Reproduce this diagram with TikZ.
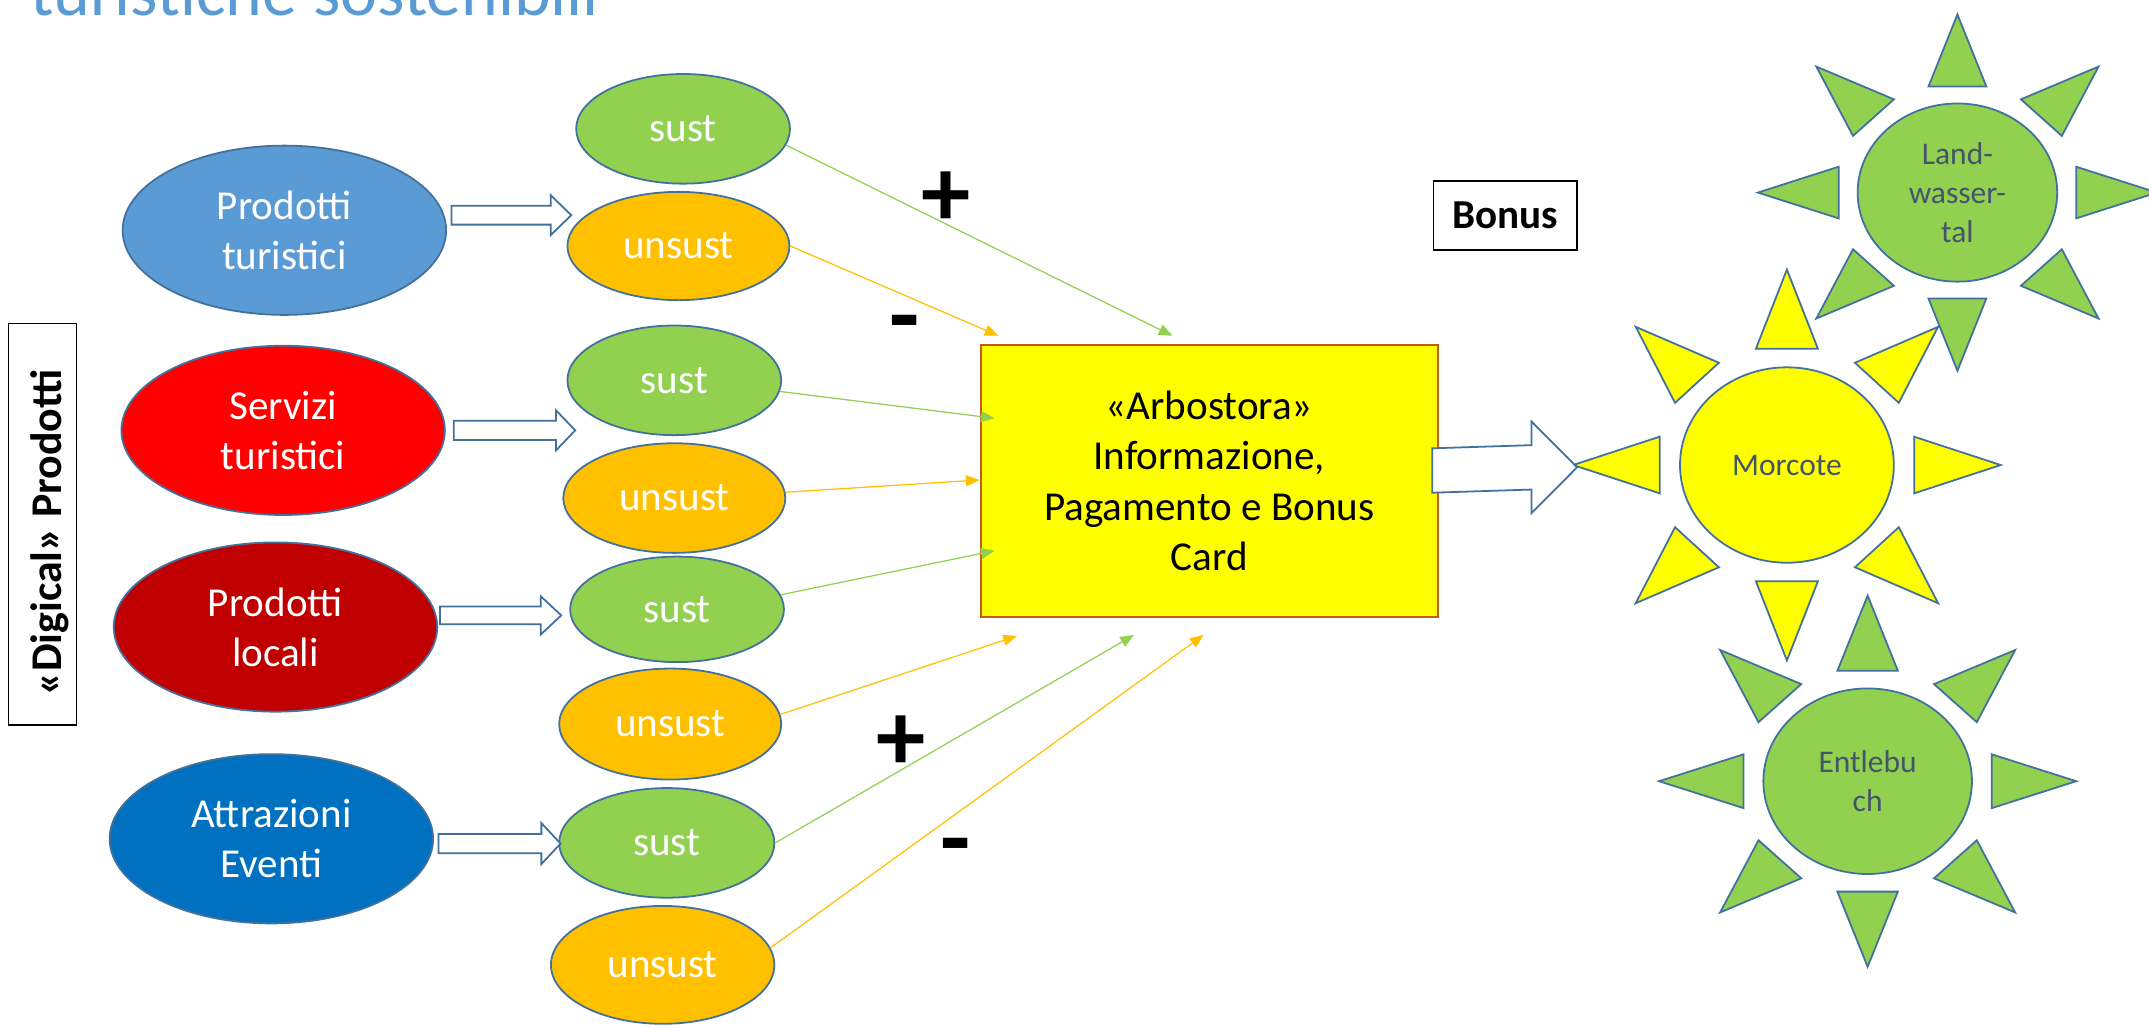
\documentclass[tikz,border=0pt]{standalone}
\usepackage{fontspec}
\setmainfont{Carlito}
\usetikzlibrary{shapes.geometric,arrows.meta,calc}
\definecolor{ptblue}{HTML}{5B9BD5}
\definecolor{sred}{HTML}{FF0000}
\definecolor{dred}{HTML}{C00000}
\definecolor{eblue}{HTML}{0070C0}
\definecolor{sgreen}{HTML}{92D050}
\definecolor{sorange}{HTML}{FFC000}
\definecolor{outl}{HTML}{41719C}
\definecolor{boxbrd}{HTML}{C55A11}
\definecolor{suntxt}{HTML}{44546A}
\definecolor{syellow}{HTML}{FFFF00}
\newcommand\fs[2]{\fontsize{#1}{#2}\selectfont}
\newcommand\blockarr[5]{%
  \draw[barrow] ($(#1)+(0,-#3)$) -- ($(#2)+(-#5,-#3)$) -- ($(#2)+(-#5,-#4)$) -- (#2)
    -- ($(#2)+(-#5,#4)$) -- ($(#2)+(-#5,#3)$) -- ($(#1)+(0,#3)$) -- cycle;}
\newcommand\sunrays[4]{%
  \begin{scope}[shift={(#1.center)}, xscale=#2, yscale=#3]
    \foreach \a in {0,45,...,315}
      \draw[ray, fill=#4] (\a:2)
        -- ({1.19*cos(\a)-0.29*sin(\a)},{1.19*sin(\a)+0.29*cos(\a)})
        -- ({1.19*cos(\a)+0.29*sin(\a)},{1.19*sin(\a)-0.29*cos(\a)}) -- cycle;
  \end{scope}}
\begin{document}
\begin{tikzpicture}[x=1pt,y=-1pt,
  ell/.style={ellipse, draw=outl, line width=1.3pt, inner sep=0pt, text=white,
    font=\fs{30}{36.6}, align=center},
  bigell/.style={ell, minimum width=236pt, minimum height=123.5pt},
  sust/.style={ell, fill=sgreen, minimum width=156pt, minimum height=80pt},
  unsust/.style={ell, fill=sorange, minimum width=162pt, minimum height=80pt},
  barrow/.style={draw=outl, fill=white, line width=1.3pt, line join=miter},
  gconn/.style={draw=sgreen, line width=0.9pt, -{Triangle[length=10pt,width=8pt]}},
  oconn/.style={draw=sorange, line width=0.9pt, -{Triangle[length=10pt,width=8pt]}},
  pm/.style={font=\bfseries\fs{72}{80}, inner sep=0pt},
  sunc/.style={ellipse, draw=outl, line width=1.3pt, inner sep=0pt, text=suntxt,
    font=\fs{23}{28.5}, align=center},
  ray/.style={draw=outl, line width=1.3pt, line join=miter},
]
\useasboundingbox (0,0) rectangle (1568,750);

% title (cut at the top)
\node[anchor=base west, text=ptblue, font=\fs{51}{60}, inner sep=0pt] (title) at (22,11) {turistiche sostenibili};

% vertical label box
\node[draw=black, line width=1pt, minimum width=293pt, minimum height=50pt, rotate=90, inner sep=0pt] (vbox) at (31,382.5) {};
\node[rotate=90, font=\bfseries\fs{32}{36}, inner sep=0pt] (vtext) at (36,388.5) {«Digical» Prodotti};

% big ellipses
\node[bigell, fill=ptblue] (pt) at (207.5,168) {Prodotti\\turistici};
\node[bigell, fill=sred] (st) at (206.6,314) {Servizi\\turistici};
\node[bigell, fill=dred] (pl) at (201,457.5) {Prodotti\\locali};
\node[bigell, fill=eblue] (ae) at (198,612) {Attrazioni\\Eventi};

% small ellipses
\node[sust] (s1) at (498.4,94) {sust};
\node[unsust, minimum height=79pt] (u1) at (495,179.5) {unsust};
\node[sust] (s2) at (492,277.5) {sust};
\node[unsust] (u2) at (492,363.4) {unsust};
\node[sust, minimum height=77pt] (s3) at (494,444.6) {sust};
\node[unsust, minimum height=81pt] (u3) at (489,528.3) {unsust};
\node[sust, minimum width=157pt] (s4) at (486.5,615) {sust};
\node[unsust, minimum width=163pt, minimum height=86pt] (u4) at (483.5,704) {unsust};

% block arrows
\coordinate (a1s) at (329.4,157); \coordinate (a1e) at (416.8,157);
\coordinate (a2s) at (331,314);   \coordinate (a2e) at (419.7,314);
\coordinate (a3s) at (321,449);   \coordinate (a3e) at (409.5,449);
\coordinate (a4s) at (320,615.5); \coordinate (a4e) at (409,615.5);
\blockarr{a1s}{a1e}{6.9}{14.6}{15}
\blockarr{a2s}{a2e}{7}{14.6}{14}
\blockarr{a3s}{a3e}{6.5}{14}{15}
\blockarr{a4s}{a4e}{7}{15}{14}

% central box
\node[draw=boxbrd, fill=syellow, line width=1.3pt, minimum width=333.4pt, minimum height=198.3pt,
  inner sep=0pt, font=\fs{30}{36.8}, align=center] (card) at (882.3,350.85)
  {«Arbostora»\\Informazione,\\Pagamento e Bonus\\Card};

% bonus label
\node[draw=black, line width=1pt, minimum width=104.7pt, minimum height=50.4pt, inner sep=0pt,
  font=\bfseries\fs{30}{36}] (bonus) at (1098.4,157.2) {Bonus};

% connectors
\coordinate (e1) at (855.5,245);
\coordinate (e2) at (728.5,245);
\coordinate (e3) at (725.7,305.2);
\coordinate (e4) at (714.8,350.2);
\coordinate (e5) at (725.7,401.8);
\coordinate (e6) at (742,464);
\coordinate (e7) at (827.4,463.3);
\coordinate (e8) at (878.2,463.3);
\draw[gconn] (s1.-9) -- (e1);
\draw[oconn] (u1.east) -- (e2);
\draw[gconn] (s2.-6) -- (e3);
\draw[oconn] (u2.3) -- (e4);
\draw[gconn] (s3.8) -- (e5);
\draw[oconn] (u3.5) -- (e6);
\draw[gconn] (s4.east) -- (e7);
\draw[oconn] (u4.9) -- (e8);

% plus / minus
\node[pm] (p1) at (690,145) {+};
\node[pm] (m1) at (660,242) {-};
\node[pm] (p2) at (657.4,542) {+};
\node[pm] (m2) at (697,624) {-};

% suns
\node[sunc, fill=syellow, minimum width=156pt, minimum height=142.6pt] (mor) at (1303.8,339.3) {Morcote};
\sunrays{mor}{78}{71.3}{syellow}
\node[sunc, fill=sgreen, minimum width=145.6pt, minimum height=130pt] (lwt) at (1428.2,140.5) {Land-\\wasser-\\tal};
\sunrays{lwt}{72.8}{65}{sgreen}
\node[sunc, fill=sgreen, minimum width=152.2pt, minimum height=135.4pt] (ent) at (1362.7,570) {Entlebu\\ch};
\sunrays{ent}{76.1}{67.7}{sgreen}

% output arrow
\coordinate (bs) at (1045,343.3); \coordinate (be) at (1150.7,341);
\blockarr{bs}{be}{16.2}{33.5}{33.3}
\end{tikzpicture}
\end{document}
